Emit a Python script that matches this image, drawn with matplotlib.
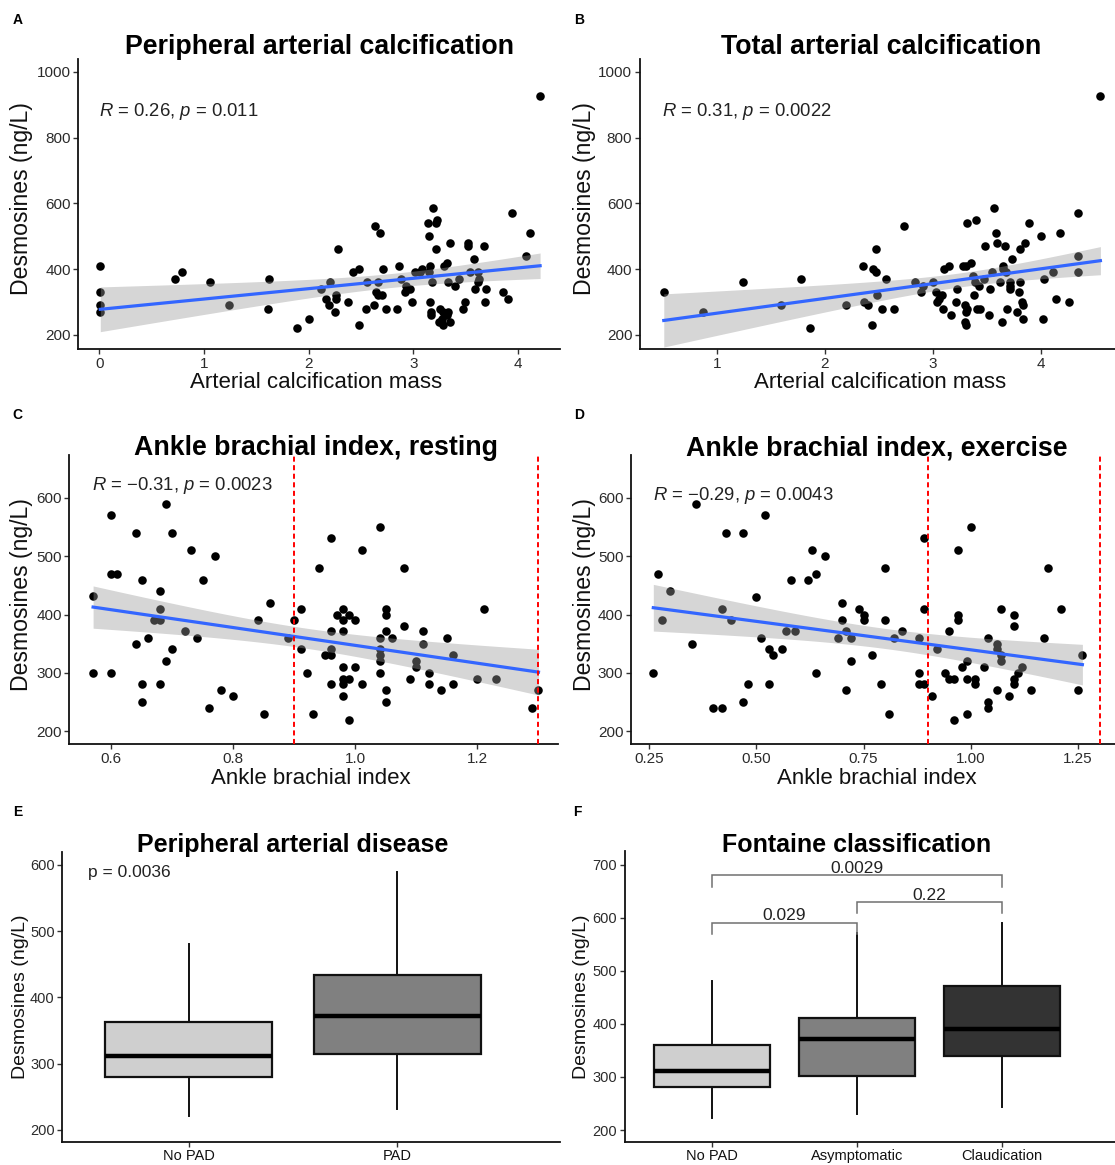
import numpy as np
import matplotlib
matplotlib.use("Agg")
import matplotlib.pyplot as plt

plt.rcParams['font.family'] = ['Liberation Sans', 'DejaVu Sans']
plt.rcParams['mathtext.fontset'] = 'custom'
plt.rcParams['mathtext.rm'] = 'Liberation Sans'
plt.rcParams['mathtext.it'] = 'Liberation Sans:italic'

# ---------------- data ----------------
# Panel A: peripheral arterial calcification mass vs desmosines
a_x = [0.01, 0.01, 0.01, 0.01, 0.72, 0.79, 1.06, 1.24, 1.62, 1.61, 1.89, 2.00, 2.12, 2.20,
       2.28, 2.17, 2.26, 2.26, 2.19, 2.25, 2.38, 2.42, 2.48, 2.48, 2.55, 2.62, 2.56, 2.63,
       2.68, 2.71, 2.66, 2.64, 2.66, 2.70, 2.74, 2.84, 2.86, 2.88, 2.93, 2.97, 2.92, 2.99,
       3.02, 3.08, 3.06, 3.15, 3.19, 3.14, 3.22, 3.23, 3.15, 3.22, 3.16, 3.18, 3.16, 3.17,
       3.17, 3.25, 3.28, 3.32, 3.24, 3.28, 3.35, 3.27, 3.33, 3.29, 3.32, 3.35, 3.33, 3.40,
       3.44, 3.47, 3.49, 3.54, 3.52, 3.52, 3.58, 3.62, 3.62, 3.63, 3.59, 3.67, 3.69, 3.68,
       3.86, 3.90, 3.94, 4.08, 4.11, 4.21]
a_y = [409, 330, 290, 270, 370, 390, 360, 290, 370, 280, 220, 250, 340, 360,
       460, 310, 320, 310, 290, 270, 300, 390, 400, 230, 280, 290, 360, 530,
       510, 400, 360, 330, 320, 320, 280, 280, 410, 370, 350, 340, 330, 300,
       390, 400, 390, 390, 587, 540, 540, 550, 500, 460, 410, 360, 300, 270,
       260, 280, 270, 260, 240, 229, 240, 250, 270, 410, 420, 480, 360, 350,
       370, 280, 300, 390, 480, 470, 430, 360, 390, 370, 340, 470, 340, 300,
       330, 310, 570, 440, 510, 926]

# Panel B: total arterial calcification mass vs desmosines
b_x = [0.51, 0.87, 1.24, 1.59, 1.78, 1.86, 2.20, 2.35, 2.36, 2.40, 2.45, 2.47, 2.47, 2.48,
       2.44, 2.53, 2.57, 2.64, 2.73, 2.83, 2.89, 2.91, 3.00, 3.03, 3.06, 3.08, 3.04, 3.09,
       3.10, 3.15, 3.17, 3.22, 3.21, 3.28, 3.31, 3.35, 3.32, 3.40, 3.30, 3.31, 3.32, 3.30,
       3.31, 3.38, 3.37, 3.39, 3.43, 3.47, 3.41, 3.44, 3.48, 3.52, 3.53, 3.55, 3.57, 3.58,
       3.59, 3.67, 3.62, 3.64, 3.65, 3.65, 3.68, 3.71, 3.71, 3.71, 3.69, 3.73, 3.78, 3.80,
       3.82, 3.83, 3.81, 3.81, 3.85, 3.83, 3.89, 4.00, 4.02, 4.03, 4.11, 4.14, 4.18, 4.26,
       4.34, 4.34, 4.34, 4.55]
b_y = [330, 270, 360, 290, 370, 220, 290, 410, 300, 290, 400, 390, 460, 320,
       229, 280, 370, 280, 530, 360, 330, 350, 360, 330, 310, 320, 300, 280,
       400, 410, 260, 340, 300, 410, 410, 420, 540, 550, 290, 270, 280, 240,
       229, 320, 380, 360, 350, 370, 280, 280, 470, 260, 340, 390, 587, 509,
       480, 470, 360, 240, 410, 400, 390, 360, 340, 350, 280, 430, 270, 330,
       300, 290, 360, 460, 480, 250, 540, 500, 250, 370, 390, 310, 509, 300,
       440, 390, 570, 926]

# Panel C: ankle brachial index (resting) vs desmosines
c_x = [0.57, 0.57, 0.60, 0.60, 0.61, 0.60, 0.64, 0.64, 0.65, 0.65, 0.65, 0.66, 0.67, 0.68,
       0.68, 0.68, 0.68, 0.69, 0.70, 0.70, 0.69, 0.72, 0.73, 0.74, 0.75, 0.77, 0.76, 0.78,
       0.80, 0.84, 0.85, 0.86, 0.89, 0.90, 0.91, 0.91, 0.92, 0.93, 0.94, 0.96, 0.96, 0.96,
       0.95, 0.96, 0.96, 0.97, 0.98, 0.99, 0.98, 1.00, 0.98, 0.98, 0.98, 0.99, 0.98, 0.98,
       0.99, 1.00, 1.01, 1.01, 1.04, 1.04, 1.04, 1.04, 1.04, 1.04, 1.05, 1.05, 1.05, 1.06,
       1.05, 1.05, 1.08, 1.08, 1.09, 1.10, 1.10, 1.11, 1.11, 1.12, 1.12, 1.14, 1.15, 1.16,
       1.16, 1.20, 1.21, 1.23, 1.29, 1.30]
c_y = [431, 300, 570, 470, 470, 300, 540, 349, 460, 280, 250, 360, 390, 440,
       410, 390, 280, 590, 540, 340, 320, 371, 511, 360, 460, 501, 240, 270,
       260, 390, 229, 420, 360, 390, 410, 340, 300, 229, 480, 531, 371, 340,
       330, 330, 280, 400, 410, 400, 390, 390, 371, 310, 290, 290, 280, 260,
       219, 310, 511, 280, 551, 360, 340, 330, 320, 300, 410, 400, 371, 360,
       270, 250, 480, 381, 290, 320, 310, 371, 349, 300, 280, 270, 360, 330,
       280, 290, 410, 290, 240, 270]

# Panel D: ankle brachial index (exercise) vs desmosines
d_x = [0.26, 0.27, 0.28, 0.30, 0.35, 0.36, 0.40, 0.42, 0.42, 0.43, 0.44, 0.47, 0.47, 0.48,
       0.50, 0.51, 0.52, 0.53, 0.54, 0.56, 0.53, 0.57, 0.59, 0.58, 0.62, 0.64, 0.63, 0.66,
       0.64, 0.69, 0.70, 0.70, 0.71, 0.72, 0.72, 0.71, 0.74, 0.75, 0.75, 0.77, 0.79, 0.80,
       0.80, 0.81, 0.82, 0.84, 0.88, 0.88, 0.88, 0.89, 0.89, 0.89, 0.91, 0.92, 0.94, 0.95,
       0.95, 0.96, 0.96, 0.97, 0.97, 0.97, 0.98, 0.99, 0.99, 0.99, 1.00, 1.01, 1.01, 1.03,
       1.04, 1.04, 1.04, 1.06, 1.06, 1.07, 1.07, 1.06, 1.07, 1.09, 1.10, 1.10, 1.10, 1.10,
       1.11, 1.12, 1.14, 1.17, 1.18, 1.21, 1.25, 1.26]
d_y = [300, 470, 390, 440, 349, 590, 240, 240, 410, 540, 390, 540, 250, 280,
       430, 360, 570, 340, 330, 340, 280, 371, 371, 460, 460, 470, 511, 501,
       300, 360, 420, 390, 371, 360, 320, 270, 410, 400, 390, 330, 280, 480,
       390, 229, 360, 371, 360, 300, 280, 280, 531, 410, 260, 340, 300, 371,
       290, 290, 219, 511, 400, 390, 310, 320, 290, 229, 551, 290, 280, 310,
       360, 250, 240, 349, 340, 330, 320, 270, 410, 260, 400, 381, 290, 280,
       300, 310, 270, 360, 480, 410, 270, 330]

# Panel E: boxplot summary (whisker low, Q1, median, Q3, whisker high)
e_groups = ['No PAD', 'PAD']
e_stats = [[221, 280, 311, 363, 480],
           [231, 315, 372, 434, 590]]
e_colors = ['#CFCFCF', '#808080']
e_p = 'p = 0.0036'

# Panel F
f_groups = ['No PAD', 'Asymptomatic', 'Claudication']
f_stats = [[222, 281, 312, 361, 481],
           [231, 301, 371, 411, 572],
           [243, 340, 391, 472, 591]]
f_colors = ['#CFCFCF', '#808080', '#333333']
# brackets: group i, group j, top y, tip y, label
f_brackets = [(1, 2, 591, 569, '0.029'),
              (2, 3, 629, 609, '0.22'),
              (1, 3, 681, 659, '0.0029')]

abi_cutoffs = [0.9, 1.3]

# ---------------- layout helpers ----------------
W, H = 1115, 1165
fig = plt.figure(figsize=(W / 100, H / 100), dpi=100)


def ax_at(l, t, r, b):
    return fig.add_axes([l / W, 1 - b / H, (r - l) / W, (b - t) / H])


def ftext(x, y, s, **kw):
    fig.text(x / W, 1 - y / H, s, **kw)


def style(ax, tick_size=11):
    for s in ['top', 'right']:
        ax.spines[s].set_visible(False)
    for s in ['left', 'bottom']:
        ax.spines[s].set_linewidth(1.3)
        ax.spines[s].set_color('#111111')
    ax.tick_params(direction='out', length=3.5, width=1.0, color='#333333',
                   labelsize=tick_size, labelcolor='#2b2b2b', pad=2)


def scatter_panel(ax, x, y):
    x = np.asarray(x, float)
    y = np.asarray(y, float)
    ax.scatter(x, y, s=38, color='black', linewidths=0, zorder=2)
    n = len(x)
    slope, inter = np.polyfit(x, y, 1)
    xs = np.linspace(x.min(), x.max(), 80)
    fit = inter + slope * xs
    resid = y - (inter + slope * x)
    s_err = np.sqrt(np.sum(resid ** 2) / (n - 2))
    se = s_err * np.sqrt(1 / n + (xs - x.mean()) ** 2 / np.sum((x - x.mean()) ** 2))
    t = 1.987
    ax.fill_between(xs, fit - t * se, fit + t * se, color='#999999', alpha=0.4,
                    lw=0, zorder=3)
    ax.plot(xs, fit, color='#3366FF', lw=2.3, zorder=4)


# ---------------- Panel A ----------------
axA = ax_at(78.3, 59.3, 560, 349.3)
scatter_panel(axA, a_x, a_y)
axA.set_xlim(-0.2, 4.40)
axA.set_ylim(156.5, 1037.7)
axA.set_xticks([0, 1, 2, 3, 4])
axA.set_yticks([200, 400, 600, 800, 1000])
style(axA)
axA.text(0.0, 880, r'$\mathit{R}$ = 0.26, $\mathit{p}$ = 0.011', fontsize=13.3,
         ha='left', va='center', color='#222222')

# ---------------- Panel B ----------------
axB = ax_at(640, 59.3, 1115, 349.3)
scatter_panel(axB, b_x, b_y)
axB.set_xlim(0.29, 4.685)
axB.set_ylim(156.5, 1037.7)
axB.set_xticks([1, 2, 3, 4])
axB.set_yticks([200, 400, 600, 800, 1000])
style(axB)
axB.text(0.49, 880, r'$\mathit{R}$ = 0.31, $\mathit{p}$ = 0.0022', fontsize=13.3,
         ha='left', va='center', color='#222222')

# ---------------- Panel C ----------------
axC = ax_at(69.3, 455, 558, 744)
scatter_panel(axC, c_x, c_y)
for v in abi_cutoffs:
    axC.axvline(v, color='red', lw=1.4, ls=(0, (2.6, 1.8)), zorder=5)
axC.set_xlim(0.531, 1.332)
axC.set_ylim(177.7, 673.8)
axC.set_xticks([0.6, 0.8, 1.0, 1.2])
axC.set_xticklabels(['0.6', '0.8', '1.0', '1.2'])
axC.set_yticks([200, 300, 400, 500, 600])
style(axC)
axC.text(0.568, 621, r'$\mathit{R}$ = $-$0.31, $\mathit{p}$ = 0.0023', fontsize=13.3,
         ha='left', va='center', color='#222222', zorder=6)

# ---------------- Panel D ----------------
axD = ax_at(631, 455, 1115, 744)
scatter_panel(axD, d_x, d_y)
for v in abi_cutoffs:
    axD.axvline(v, color='red', lw=1.4, ls=(0, (2.6, 1.8)), zorder=5)
axD.set_xlim(0.208, 1.336)
axD.set_ylim(177.7, 673.8)
axD.set_xticks([0.25, 0.5, 0.75, 1.0, 1.25])
axD.set_xticklabels(['0.25', '0.50', '0.75', '1.00', '1.25'])
axD.set_yticks([200, 300, 400, 500, 600])
style(axD)
axD.text(0.26, 604, r'$\mathit{R}$ = $-$0.29, $\mathit{p}$ = 0.0043', fontsize=13.3,
         ha='left', va='center', color='#222222', zorder=1)


# ---------------- box panels ----------------
def box_panel(ax, stats, colors, labels):
    bstats = []
    for s, lab in zip(stats, labels):
        bstats.append(dict(whislo=s[0], q1=s[1], med=s[2], q3=s[3], whishi=s[4],
                           label=lab))
    pos = np.arange(1, len(stats) + 1)
    bp = ax.bxp(bstats, positions=pos, widths=0.8, patch_artist=True,
                showfliers=False, showcaps=False,
                boxprops=dict(linewidth=1.6, edgecolor='#111111'),
                medianprops=dict(linewidth=3.2, color='black'),
                whiskerprops=dict(linewidth=1.4, color='#111111'))
    for patch, c in zip(bp['boxes'], colors):
        patch.set_facecolor(c)
    return pos


axE = ax_at(62.3, 851.7, 560, 1141.7)
box_panel(axE, e_stats, e_colors, e_groups)
axE.set_xlim(0.393, 2.78)
axE.set_ylim(182.3, 620)
axE.set_yticks([200, 300, 400, 500, 600])
style(axE, tick_size=10.5)
axE.tick_params(axis='x', labelcolor='#111111', labelsize=10.5)
axE.text(0.516, 588, e_p, fontsize=12.5, ha='left', va='center', color='#222222')

axF = ax_at(625, 851, 1115, 1141.7)
box_panel(axF, f_stats, f_colors, f_groups)
axF.set_xlim(0.403, 3.776)
axF.set_ylim(178, 726)
axF.set_yticks([200, 300, 400, 500, 600, 700])
style(axF, tick_size=10.5)
axF.tick_params(axis='x', labelcolor='#111111', labelsize=10.5)
for g1, g2, top, tip, lab in f_brackets:
    axF.plot([g1, g1, g2, g2], [tip, top, top, tip], color='#707070', lw=1.1,
             solid_joinstyle='miter', zorder=5)
    axF.text((g1 + g2) / 2, top + 4, lab, fontsize=12.5, ha='center',
             va='baseline', color='#222222')

# ---------------- titles, labels, letters ----------------
tkw = dict(fontsize=19.3, fontweight='bold', ha='center', va='baseline', color='black')
ftext(319.5, 53.5, 'Peripheral arterial calcification', **tkw)
ftext(881, 53.5, 'Total arterial calcification', **tkw)
ftext(316, 455, 'Ankle brachial index, resting', **tkw)
ftext(877, 455, 'Ankle brachial index, exercise', **tkw)
tkw2 = dict(tkw, fontsize=18)
ftext(292.5, 851.7, 'Peripheral arterial disease', **tkw2)
ftext(856.7, 851.7, 'Fontaine classification', **tkw2)

lkw = dict(fontsize=16, ha='center', va='center', color='#111111')
ftext(316, 383, 'Arterial calcification mass', **lkw)
ftext(880, 383, 'Arterial calcification mass', **lkw)
ftext(311, 778, 'Ankle brachial index', **lkw)
ftext(877, 778, 'Ankle brachial index', **lkw)
lkwy = dict(lkw, fontsize=16.6)
ftext(22, 199, 'Desmosines (ng/L)', rotation=90, **lkwy)
ftext(584, 199, 'Desmosines (ng/L)', rotation=90, **lkwy)
ftext(22, 595, 'Desmosines (ng/L)', rotation=90, **lkwy)
ftext(584, 595, 'Desmosines (ng/L)', rotation=90, **lkwy)
lkw2 = dict(lkw, fontsize=14)
ftext(21, 997, 'Desmosines (ng/L)', rotation=90, **lkw2)
ftext(582, 997, 'Desmosines (ng/L)', rotation=90, **lkw2)

pkw = dict(fontsize=10, fontweight='bold', ha='left', va='center', color='black')
ftext(12.7, 20, 'A', **pkw)
ftext(574, 20, 'B', **pkw)
ftext(12.7, 415, 'C', **pkw)
ftext(574, 415, 'D', **pkw)
ftext(12.7, 812, 'E', **pkw)
ftext(573, 812, 'F', **pkw)

fig.savefig('out.png', dpi=100, facecolor='white')
